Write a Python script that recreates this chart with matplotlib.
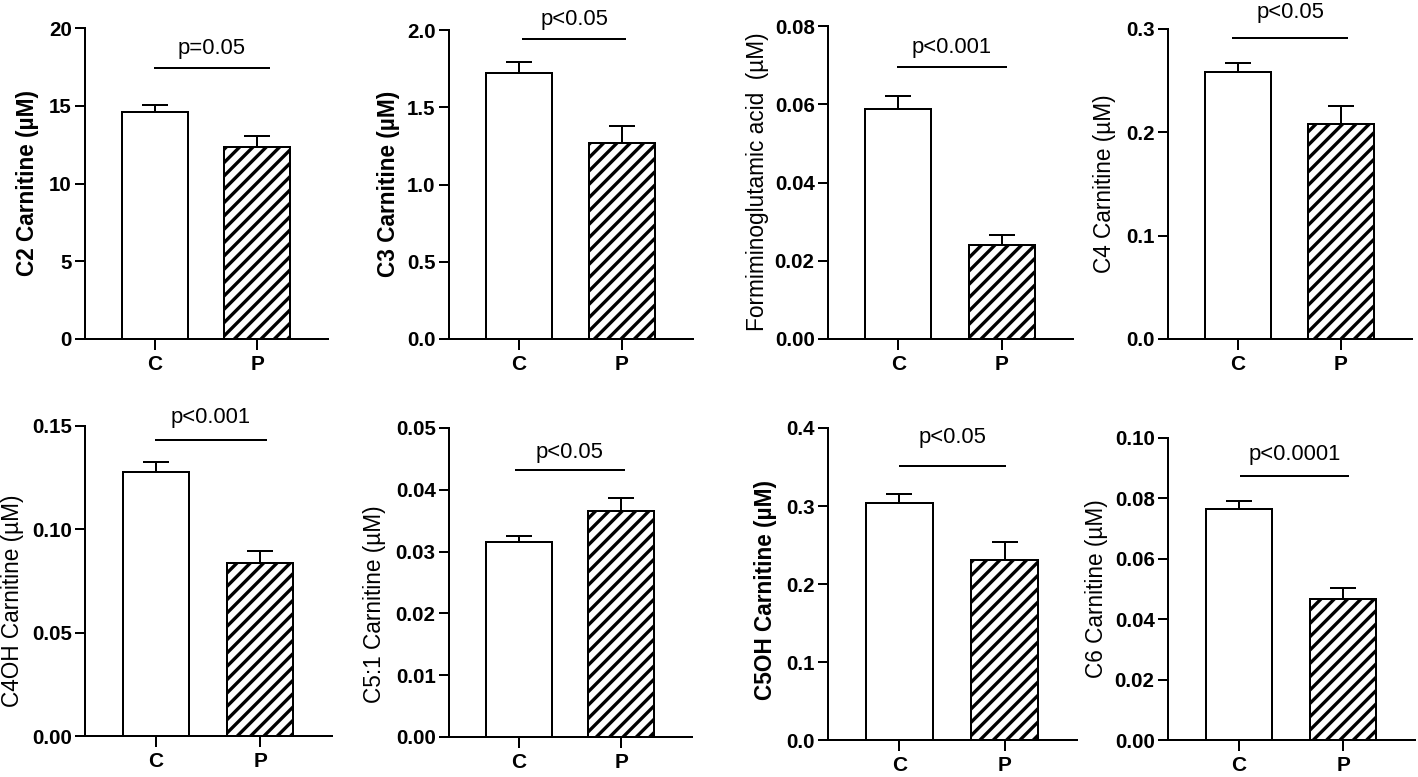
import matplotlib
matplotlib.use("Agg")
import matplotlib.pyplot as plt

plt.rcParams['font.family'] = ['Liberation Sans', 'DejaVu Sans']
plt.rcParams['hatch.linewidth'] = 2.0
plt.rcParams['hatch.color'] = 'black'

groups = ["C", "P"]

ylabels = ["C2 Carnitine (µM)", "C3 Carnitine (µM)", "Formiminoglutamic acid  (µM)", "C4 Carnitine (µM)",
           "C4OH Carnitine (µM)", "C5:1 Carnitine (µM)", "C5OH Carnitine (µM)", "C6 Carnitine (µM)"]
label_bold = [True, True, False, False, False, False, True, False]

means_C = [14.6, 1.72, 0.0587, 0.2585, 0.1277, 0.0315, 0.3043, 0.0764]
means_P = [12.37, 1.27, 0.0239, 0.2078, 0.0839, 0.0366, 0.2308, 0.0466]
sem_C = [0.43, 0.07, 0.0034, 0.009, 0.0047, 0.0010, 0.0117, 0.0028]
sem_P = [0.68, 0.11, 0.0028, 0.0177, 0.0055, 0.0021, 0.0232, 0.0038]

yticks = [
    [0, 5, 10, 15, 20],
    [0.0, 0.5, 1.0, 1.5, 2.0],
    [0.00, 0.02, 0.04, 0.06, 0.08],
    [0.0, 0.1, 0.2, 0.3],
    [0.00, 0.05, 0.10, 0.15],
    [0.00, 0.01, 0.02, 0.03, 0.04, 0.05],
    [0.0, 0.1, 0.2, 0.3, 0.4],
    [0.00, 0.02, 0.04, 0.06, 0.08, 0.10],
]
ytick_labels = [
    ["0", "5", "10", "15", "20"],
    ["0.0", "0.5", "1.0", "1.5", "2.0"],
    ["0.00", "0.02", "0.04", "0.06", "0.08"],
    ["0.0", "0.1", "0.2", "0.3"],
    ["0.00", "0.05", "0.10", "0.15"],
    ["0.00", "0.01", "0.02", "0.03", "0.04", "0.05"],
    ["0.0", "0.1", "0.2", "0.3", "0.4"],
    ["0.00", "0.02", "0.04", "0.06", "0.08", "0.10"],
]

p_texts = ["p=0.05", "p<0.05", "p<0.001", "p<0.05", "p<0.001", "p<0.05", "p<0.05", "p<0.0001"]
sig_y = [17.4, 1.94, 0.0695, 0.291, 0.143, 0.0432, 0.351, 0.0874]
sig_x0 = [-0.01, 0.03, -0.01, -0.06, -0.01, -0.04, 0.0, 0.01]
sig_x1 = [1.12, 1.04, 1.05, 1.07, 1.07, 1.04, 1.01, 1.06]
text_y = [18.65, 2.065, 0.0746, 0.3156, 0.1543, 0.0461, 0.388, 0.0944]

# layout in pixels: (left, right, top, bottom), label center (x, y)
W, H = 1418, 777
boxes = [(85, 328, 28, 339), (449, 693, 30, 339), (828, 1073, 26, 339), (1168, 1412, 29, 339),
         (85, 332, 426, 736), (449, 692, 428, 737), (828, 1077, 428, 740), (1168, 1415, 438, 740)]
label_pos = [(28, 183), (388, 184), (758, 182), (1105, 184),
             (13, 601), (375, 604), (765, 590), (1097, 589)]

DPI = 120
fig = plt.figure(figsize=(W / DPI, H / DPI), dpi=DPI)
lw = 1.2

for i in range(8):
    l, r, t, b = boxes[i]
    ax = fig.add_axes([l / W, 1 - b / H, (r - l) / W, (b - t) / H])
    xs = [0, 1]
    ax.bar(xs[0], means_C[i], width=0.64, color='white', edgecolor='black', linewidth=lw, zorder=2)
    ax.bar(xs[1], means_P[i], width=0.64, color='white', edgecolor='black', linewidth=lw,
           hatch='///', zorder=2)
    ax.errorbar(xs, [means_C[i], means_P[i]], yerr=[[0, 0], [sem_C[i], sem_P[i]]],
                fmt='none', ecolor='black', elinewidth=lw, capsize=7.8, capthick=lw, zorder=1)
    ax.set_xlim(-0.68, 1.69)
    ax.set_ylim(0, yticks[i][-1])
    ax.set_yticks(yticks[i])
    ax.set_yticklabels(ytick_labels[i], fontweight='bold', fontsize=12.3)
    ax.set_xticks(xs)
    ax.set_xticklabels(groups, fontweight='bold', fontsize=12.5)
    for s in ['top', 'right']:
        ax.spines[s].set_visible(False)
    for s in ['left', 'bottom']:
        ax.spines[s].set_linewidth(lw)
    ax.tick_params(axis='y', direction='out', length=6, width=lw, pad=2)
    ax.tick_params(axis='x', direction='out', length=6.5, width=lw, pad=3)
    ax.set_ylabel(ylabels[i], fontsize=13.6, fontweight='bold' if label_bold[i] else 'normal', va='center')
    lx, ly = label_pos[i]
    ax.yaxis.set_label_coords(lx / W, 1 - ly / H, transform=fig.transFigure)
    ax.plot([sig_x0[i], sig_x1[i]], [sig_y[i], sig_y[i]], color='black', linewidth=lw,
            clip_on=False, solid_capstyle='butt')
    ax.text((sig_x0[i] + sig_x1[i]) / 2, text_y[i], p_texts[i], ha='center', va='center',
            fontsize=13.2, clip_on=False)
    ax.patch.set_alpha(0)

fig.savefig("out.png", dpi=DPI, facecolor='white')
